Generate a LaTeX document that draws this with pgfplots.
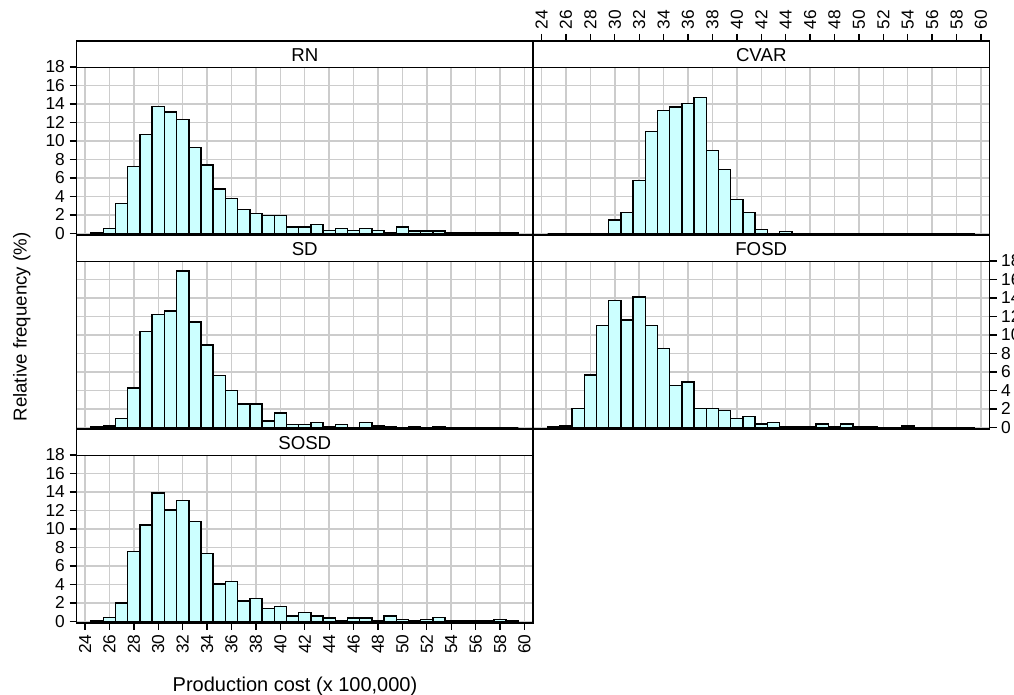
\documentclass[border=0pt]{standalone}
\usepackage{pgfplots}
\pgfplotsset{compat=1.18}
\usepackage{fontspec}
\setmainfont{Liberation Sans}
\definecolor{barfill}{HTML}{CCFFFF}
\definecolor{gridgray}{HTML}{CCCCCC}
\pgfplotsset{
 panel/.style={
  scale only axis, width=342.375pt, height=145.5pt,
  xmin=23.3, xmax=60.7, ymin=-0.18, ymax=20.81,
  xtick={24,26,...,60}, ytick={0,2,...,18},
  xmajorgrids, ymajorgrids,
  major grid style={draw=gridgray, line width=1.1pt},
  axis line style={line width=1.1pt},
  tick align=outside, major tick length=5.25pt,
  tick label style={font=\fontsize{13}{15}\selectfont},
  /pgf/number format/assume math mode=true,
  anchor=south west,
 },
 strip/.style={after end axis/.append code={
   \node[draw=black, line width=1.1pt, fill=white, anchor=north,
     minimum width=342.375pt, minimum height=19.5pt, inner sep=0pt,
     font=\fontsize{14}{16}\selectfont] at (rel axis cs:0.5,1) {#1};}},
 yleft/.style={ytick pos=left, yticklabel pos=left, ytick style={black, line width=1pt}},
 yright/.style={ytick pos=right, yticklabel pos=right, ytick style={black, line width=1pt}},
 ynone/.style={yticklabels={}, ytick style={draw=none}},
 xbottom/.style={xtick pos=left, xticklabel pos=left, xtick style={black, line width=1pt},
   xticklabel style={rotate=90, anchor=east}},
 xtop/.style={xtick pos=right, xticklabel pos=right, xtick style={black, line width=1pt},
   xticklabel style={rotate=90, anchor=west}},
 xnone/.style={xticklabels={}, xtick style={draw=none}},
 bars/.style={ybar, bar width=1, bar shift=0pt, fill=barfill, draw=black, line width=1.1pt},
}
\begin{document}
\begin{tikzpicture}[x=0.75pt, y=0.75pt]
\path[use as bounding box] (0,0) rectangle (1014,695);
\clip (0,0) rectangle (1014,695);

% RN
\begin{axis}[panel, at={(57.375pt,345pt)}, yleft, xnone, strip=RN]
\addplot[bars] coordinates {
(25,0.1) (26,0.5) (27,3.2) (28,7.25) (29,10.7) (30,13.7) (31,13.15) (32,12.3) (33,9.3) (34,7.4)
(35,4.8) (36,3.75) (37,2.55) (38,2.15) (39,1.9) (40,1.9) (41,0.7) (42,0.7) (43,0.93) (44,0.3)
(45,0.5) (46,0.3) (47,0.5) (48,0.3) (49,0.1) (50,0.7) (51,0.25) (52,0.25) (53,0.25) (54,0.05)
(55,0.05) (56,0.05) (57,0.05) (58,0.05) (59,0.05)};
\end{axis}

% CVAR
\begin{axis}[panel, at={(399.75pt,345pt)}, ynone, xtop, strip=CVAR]
\addplot[bars] coordinates {
(25,0) (26,0) (27,0) (28,0) (29,0) (30,1.43) (31,2.26) (32,5.73) (33,11.04) (34,13.3)
(35,13.66) (36,14.05) (37,14.7) (38,8.96) (39,6.92) (40,3.66) (41,2.26) (42,0.4) (43,0) (44,0.2)
(45,0) (46,0) (47,0) (48,0) (49,0) (50,0) (51,0) (52,0) (53,0) (54,0)
(55,0) (56,0) (57,0) (58,0) (59,0)};
\end{axis}

% SD
\begin{axis}[panel, at={(57.375pt,199.5pt)}, ynone, xnone, strip=SD]
\addplot[bars] coordinates {
(25,0.05) (26,0.15) (27,0.95) (28,4.25) (29,10.35) (30,12.2) (31,12.6) (32,16.9) (33,11.4) (34,8.9)
(35,5.6) (36,4.0) (37,2.5) (38,2.5) (39,0.7) (40,1.55) (41,0.3) (42,0.3) (43,0.5) (44,0.1)
(45,0.3) (46,0) (47,0.5) (48,0.15) (49,0.1) (50,0) (51,0.1) (52,0) (53,0.1) (54,0)
(55,0) (56,0) (57,0) (58,0) (59,0)};
\end{axis}

% FOSD
\begin{axis}[panel, at={(399.75pt,199.5pt)}, yright, xnone, strip=FOSD]
\addplot[bars] coordinates {
(25,0.05) (26,0.15) (27,2.05) (28,5.65) (29,11.0) (30,13.7) (31,11.6) (32,14.1) (33,11.0) (34,8.55)
(35,4.5) (36,4.9) (37,2.05) (38,2.05) (39,1.8) (40,0.97) (41,1.2) (42,0.35) (43,0.55) (44,0.07)
(45,0.07) (46,0.07) (47,0.35) (48,0.07) (49,0.35) (50,0.07) (51,0.07) (52,0) (53,0) (54,0.15)
(55,0) (56,0) (57,0) (58,0) (59,0)};
\end{axis}

% SOSD
\begin{axis}[panel, at={(57.375pt,54pt)}, yleft, xbottom, strip=SOSD]
\addplot[bars] coordinates {
(25,0.05) (26,0.4) (27,2.0) (28,7.55) (29,10.4) (30,13.9) (31,12.05) (32,13.1) (33,10.8) (34,7.35)
(35,4.05) (36,4.3) (37,2.2) (38,2.45) (39,1.37) (40,1.6) (41,0.57) (42,0.97) (43,0.57) (44,0.36)
(45,0.05) (46,0.36) (47,0.36) (48,0.05) (49,0.57) (50,0.18) (51,0.05) (52,0.18) (53,0.4) (54,0.05)
(55,0.05) (56,0.05) (57,0.05) (58,0.18) (59,0.05)};
\end{axis}

\node[rotate=90, anchor=base, font=\fontsize{14}{16}\selectfont] at (26.5,368) {Relative frequency (\%)};
\node[anchor=base, font=\fontsize{15}{17}\selectfont] at (295,3.7) {Production cost (x 100,000)};
\end{tikzpicture}
\end{document}
